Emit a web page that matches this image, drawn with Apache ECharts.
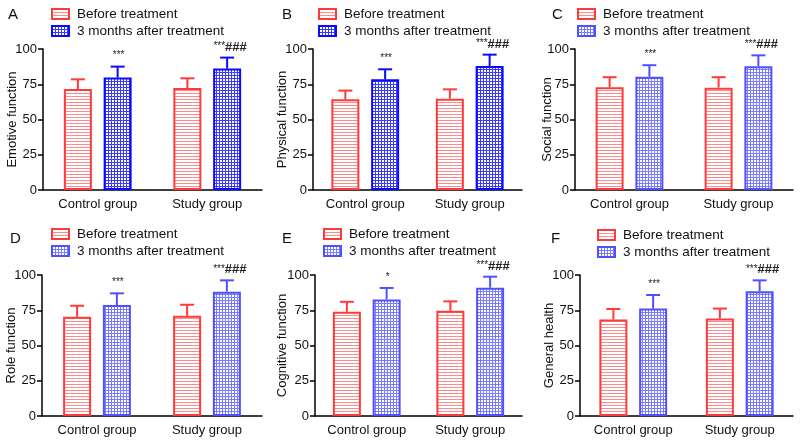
<!DOCTYPE html>
<html><head><meta charset="utf-8">
<script src="https://cdn.jsdelivr.net/npm/echarts@6/dist/echarts.min.js"></script>
<style>html,body{margin:0;padding:0;background:#fff}#c{width:800px;height:441px}</style>
</head><body><div id="c"></div>
<script>
// ---- data ----
const categories = ['Control group', 'Study group'];
const seriesNames = ['Before treatment', '3 months after treatment'];
const panelLetters = ['A', 'B', 'C', 'D', 'E', 'F'];
const yAxisNames = ['Emotive function', 'Physical function', 'Social function', 'Role function', 'Cognitive function', 'General health'];
const yTicks = [0, 25, 50, 75, 100];
const beforeMean = [[71.6, 72.3], [64.3, 64.8], [72.9, 72.6], [70.4, 71.1], [73.9, 74.6], [68.4, 69.1]];
const beforeSD   = [[6.9, 6.9],   [6.2, 6.6],   [7.1, 7.4],   [7.8, 7.8],   [7.1, 6.7],   [7.5, 7.1]];
const afterMean  = [[79.7, 86.1], [78.5, 87.9], [80.4, 87.7], [78.7, 88.2], [82.7, 91.0], [76.2, 88.4]];
const afterSD    = [[7.8, 7.8],   [7.1, 8.1],   [8.1, 7.8],   [8.3, 8.0],   [8.1, 7.8],   [9.6, 7.8]];
const starMarks  = [['***', '***'], ['***', '***'], ['***', '***'], ['***', '***'], ['*', '***'], ['***', '***']];
const hashMarks  = [['', '###'], ['', '###'], ['', '###'], ['', '###'], ['', '###'], ['', '###']];

// ---- layout / style ----
const grids = [
  {left: 43, top: 49, width: 219, height: 141},
  {left: 313, top: 49, width: 209, height: 141},
  {left: 575, top: 49, width: 218, height: 141},
  {left: 42, top: 275, width: 220, height: 141},
  {left: 315, top: 275, width: 207, height: 141},
  {left: 580, top: 275, width: 213, height: 141}
];
const nameGaps = [24, 24, 21, 24, 26, 24];
const legendPos = [
  {left: 51, top: 7}, {left: 318, top: 7}, {left: 577, top: 7},
  {left: 51, top: 227}, {left: 323, top: 227}, {left: 597, top: 228}
];
const letterPos = [
  {left: 3, top: 2}, {left: 277, top: 2}, {left: 547, top: 2},
  {left: 5, top: 226}, {left: 277, top: 226}, {left: 546, top: 226}
];
const FONT = 'Liberation Sans, Arial, sans-serif';
const RED = '#ff3a3a', RED_LINE = '#ff8c8c';
const blueBorder = ['#0a0aff', '#0a0aff', '#5050ff', '#5050ff', '#5050ff', '#5050ff'];
const blueLine = ['#3a3aff', '#3a3aff', '#7a7aff', '#7a7aff', '#7a7aff', '#7a7aff'];
const BAR_W = 28, GAP = 0.42;

function hPattern(color) {
  const c = document.createElement('canvas'); c.width = 4; c.height = 3;
  const g = c.getContext('2d'); g.fillStyle = '#fff'; g.fillRect(0, 0, 4, 3);
  g.fillStyle = color; g.fillRect(0, 0, 4, 1);
  return {image: c, repeat: 'repeat'};
}
function gridPattern(color) {
  const c = document.createElement('canvas'); c.width = 3; c.height = 3;
  const g = c.getContext('2d'); g.fillStyle = '#fff'; g.fillRect(0, 0, 3, 3);
  g.fillStyle = color; g.fillRect(0, 0, 3, 1); g.fillRect(0, 0, 1, 3);
  return {image: c, repeat: 'repeat'};
}

const option = {animation: false, backgroundColor: '#fff', grid: [], xAxis: [], yAxis: [], series: [], legend: [], title: []};
const offset = (BAR_W + BAR_W * GAP) / 2;

for (let p = 0; p < 6; p++) {
  const redStyle = {color: hPattern(RED_LINE), borderColor: RED, borderWidth: 2};
  const blueStyle = {color: gridPattern(blueLine[p]), borderColor: blueBorder[p], borderWidth: 2};
  option.grid.push(Object.assign({containLabel: false}, grids[p]));
  option.xAxis.push({
    type: 'category', gridIndex: p, data: categories,
    axisLine: {lineStyle: {color: '#000', width: 1.5}},
    axisTick: {alignWithLabel: true, length: 5, lineStyle: {color: '#000', width: 1.5}},
    axisLabel: {color: '#111', fontSize: 13, fontFamily: FONT, margin: 8}
  });
  option.yAxis.push({
    type: 'value', gridIndex: p, min: 0, max: 100, interval: 25,
    name: yAxisNames[p], nameLocation: 'middle', nameGap: nameGaps[p], nameMoveOverlap: false,
    nameTextStyle: {color: '#111', fontSize: 13, fontFamily: FONT},
    axisLine: {show: true, lineStyle: {color: '#000', width: 1.5}},
    axisTick: {show: true, length: 5, lineStyle: {color: '#000', width: 1.5}},
    axisLabel: {color: '#111', fontSize: 13, fontFamily: FONT, margin: 6,
      formatter: v => yTicks.indexOf(v) >= 0 ? String(v) : ''},
    splitLine: {show: false}
  });
  option.series.push({
    type: 'bar', name: seriesNames[0], xAxisIndex: p, yAxisIndex: p,
    data: beforeMean[p], barWidth: BAR_W, barGap: (GAP * 100) + '%', itemStyle: redStyle
  });
  option.series.push({
    type: 'bar', name: seriesNames[1], xAxisIndex: p, yAxisIndex: p,
    data: afterMean[p], barWidth: BAR_W, barGap: (GAP * 100) + '%', itemStyle: blueStyle
  });
  // error bars + annotations
  const errData = [];
  for (let i = 0; i < categories.length; i++) {
    errData.push([i, beforeMean[p][i], beforeSD[p][i], -1, '', '']);
    errData.push([i, afterMean[p][i], afterSD[p][i], 1, starMarks[p][i], hashMarks[p][i]]);
  }
  const bc = blueBorder[p];
  option.series.push({
    type: 'custom', xAxisIndex: p, yAxisIndex: p, data: errData, silent: true, z: 5,
    renderItem: function (params, api) {
      const idx = api.value(0), mean = api.value(1), sd = api.value(2), side = api.value(3);
      const star = errData[params.dataIndex][4], hash = errData[params.dataIndex][5];
      const base = api.coord([idx, mean]);
      const top = api.coord([idx, mean + sd]);
      const x = base[0] + side * offset;
      const col = side < 0 ? RED : bc;
      const children = [
        {type: 'line', shape: {x1: x, y1: base[1], x2: x, y2: top[1]}, style: {stroke: col, lineWidth: 2}},
        {type: 'line', shape: {x1: x - 7, y1: top[1], x2: x + 7, y2: top[1]}, style: {stroke: col, lineWidth: 2}}
      ];
      if (star || hash) {
        children.push({
          type: 'text',
          style: {
            text: '{s|' + star + '}' + (hash ? '{h|' + hash + '}' : ''),
            x: x + (hash ? 3 : 1), y: top[1] - 4, align: 'center', verticalAlign: 'bottom',
            rich: {
              s: {fontSize: 10, fontFamily: FONT, fill: '#222', padding: [0, 0, 2, 0]},
              h: {fontSize: 13, fontFamily: FONT, fontWeight: 'bold', fill: '#222'}
            }
          }
        });
      }
      return {type: 'group', children: children};
    }
  });
  option.legend.push(Object.assign({
    orient: 'vertical', itemWidth: 17, itemHeight: 10, itemGap: 3, padding: 0,
    textStyle: {color: '#111', fontSize: 13.5, fontFamily: FONT, padding: [0, 0, 0, 3]},
    selectedMode: false,
    data: [
      {name: seriesNames[0], icon: 'rect', itemStyle: redStyle},
      {name: seriesNames[1], icon: 'rect', itemStyle: blueStyle}
    ]
  }, legendPos[p]));
  option.title.push(Object.assign({
    text: panelLetters[p], textStyle: {color: '#111', fontSize: 15, fontWeight: 'normal', fontFamily: FONT}
  }, letterPos[p]));
}

const chart = echarts.init(document.getElementById('c'), null, {renderer: 'canvas'});
chart.setOption(option);
</script></body></html>
